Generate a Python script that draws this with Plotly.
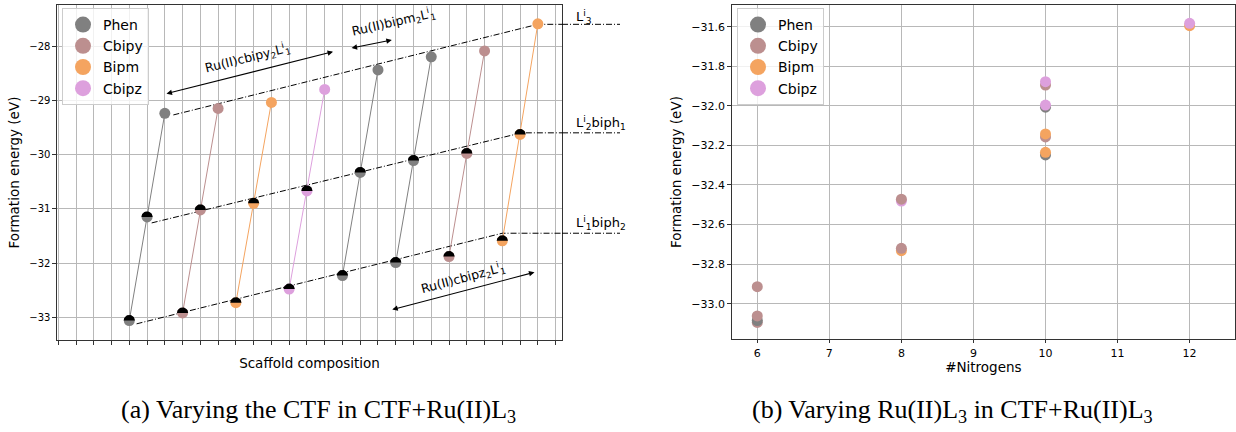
import numpy as np
import plotly.graph_objects as go

W, H = 1236, 432
FONT = "DejaVu Sans"

ligands = ["Phen", "Cbipy", "Bipm", "Cbipz"]
colors = {"Phen": "#808080", "Cbipy": "#bc8f8f", "Bipm": "#f4a460", "Cbipz": "#dda0dd"}

# ---------------- left panel data ----------------
group_ligand = ["Phen", "Cbipy", "Bipm", "Cbipz", "Phen", "Phen", "Cbipy", "Bipm"]
x_bottom = [3, 6, 9, 12, 15, 18, 21, 24]
x_mid = [4, 7, 10, 13, 16, 19, 22, 25]
x_top = [5, 8, 11, 14, 17, 20, 23, 26]
e_bottom = [-33.06, -32.92, -32.73, -32.48, -32.23, -31.99, -31.88, -31.59]
e_mid = [-31.15, -31.02, -30.90, -30.67, -30.33, -30.11, -29.98, -29.63]
e_top = [-29.24, -29.15, -29.04, -28.80, -28.44, -28.20, -28.09, -27.59]

guide_labels = ["L<sup>i</sup><sub>3</sub>",
                "L<sup>i</sup><sub>2</sub>biph<sub>1</sub>",
                "L<sup>i</sup><sub>1</sub>biph<sub>2</sub>"]
guide_x0 = [5.48, 4.26, 3.41]
guide_y0 = [-29.27, -31.26, -33.12]
guide_x1 = [26.0, 25.08, 24.0]
guide_y1 = [-27.60, -29.60, -31.45]
guide_label_y = [-27.46, -29.41, -31.27]

arrow_labels = ["Ru(II)cbipy<sub>2</sub>L<sup>i</sup><sub>1</sub>",
                "Ru(II)bipm<sub>2</sub>L<sup>i</sup><sub>1</sub>",
                "Ru(II)cbipz<sub>2</sub>L<sup>i</sup><sub>1</sub>"]
arrow_x0 = [5.01, 15.43, 17.72]
arrow_y0 = [-28.885, -28.042, -32.865]
arrow_x1 = [14.47, 17.78, 25.81]
arrow_y1 = [-28.105, -27.89, -32.17]
arrow_label_x = [9.63, 17.9, 21.79]
arrow_label_y = [-28.22, -27.56, -32.28]
arrow_label_angle = [-14, -13, -15]

# ---------------- right panel data ----------------
right_lig = ["Phen", "Phen", "Phen",
             "Cbipy", "Cbipy", "Cbipy", "Cbipy", "Cbipy", "Cbipy", "Cbipy",
             "Bipm", "Bipm", "Bipm", "Bipm",
             "Cbipz", "Cbipz", "Cbipz", "Cbipz"]
right_n = [6, 10, 10,
           6, 6, 6, 8, 8, 10, 10,
           8, 10, 10, 12,
           8, 10, 10, 12]
right_e = [-33.085, -32.007, -32.248,
           -33.062, -33.095, -32.914, -32.472, -32.720, -31.895, -32.157,
           -32.732, -32.142, -32.235, -31.595,
           -32.481, -31.878, -31.996, -31.583]
right_layer = [1, 0, 0,
               2, 0, 2, 2, 2, 0, 0,
               0, 2, 2, 0,
               0, 2, 2, 2]

# ---------------- geometry ----------------
L_dom = [57 / W, 562 / W]
L_ydom = [1 - 340 / H, 1 - 5 / H]
L_xr = [-1.07, 27.36]
L_yr = [-33.418, -27.244]
R_dom = [731.7 / W, 1235 / W]
R_ydom = [1 - 338.7 / H, 1 - 5.3 / H]
R_xr = [5.645, 12.63]
R_yr = [-33.177, -31.492]

sx = (L_dom[1] - L_dom[0]) * W / (L_xr[1] - L_xr[0])
sy = (L_ydom[1] - L_ydom[0]) * H / (L_yr[1] - L_yr[0])

fig = go.Figure()

DASHDOT = "6px,2px,1px,2px"

for k in range(3):
    fig.add_trace(go.Scatter(
        x=[guide_x0[k], guide_x1[k], L_xr[1]], y=[guide_y0[k], guide_y1[k], guide_y1[k]],
        mode="lines", line=dict(color="black", width=1, dash=DASHDOT),
        showlegend=False, hoverinfo="skip", xaxis="x", yaxis="y"))

for g, lig in enumerate(group_ligand):
    fig.add_trace(go.Scatter(
        x=[x_bottom[g], x_mid[g], x_top[g]], y=[e_bottom[g], e_mid[g], e_top[g]],
        mode="lines+markers", line=dict(color=colors[lig], width=1),
        marker=dict(color=colors[lig], size=11),
        showlegend=False, xaxis="x", yaxis="y"))

# black upper halves on the bottom/mid markers
r = 5.6
t = np.linspace(0, np.pi, 24)
hx, hy = [], []
for xs_, ys_ in ((x_bottom, e_bottom), (x_mid, e_mid)):
    for xc, yc in zip(xs_, ys_):
        hx += list(xc + r * np.cos(t) / sx) + [None]
        hy += list(yc + r * np.sin(t) / sy) + [None]
fig.add_trace(go.Scatter(x=hx, y=hy, mode="lines", fill="toself", fillcolor="black",
                         line=dict(width=0, color="black"), showlegend=False,
                         hoverinfo="skip", xaxis="x", yaxis="y"))

for lig in ligands:
    fig.add_trace(go.Scatter(x=[None], y=[None], mode="markers", name=lig,
                             marker=dict(color=colors[lig], size=16),
                             legend="legend", xaxis="x", yaxis="y"))

for layer in (0, 1, 2):
    for lig in ligands:
        idx = [i for i in range(len(right_lig)) if right_lig[i] == lig and right_layer[i] == layer]
        if not idx:
            continue
        fig.add_trace(go.Scatter(
            x=[right_n[i] for i in idx], y=[right_e[i] for i in idx], mode="markers",
            marker=dict(color=colors[lig], size=11), showlegend=False,
            xaxis="x2", yaxis="y2"))
for lig in ligands:
    fig.add_trace(go.Scatter(x=[None], y=[None], mode="markers", name=lig,
                             marker=dict(color=colors[lig], size=16),
                             legend="legend2", xaxis="x2", yaxis="y2"))

annotations = []
shapes = []
for k in range(3):
    shapes.append(dict(type="line", xref="paper", yref="y", x0=L_dom[1], x1=620 / W,
                       y0=guide_y1[k], y1=guide_y1[k],
                       line=dict(color="black", width=1, dash=DASHDOT)))
    annotations.append(dict(xref="paper", yref="y", x=574 / W, y=guide_label_y[k],
                            xanchor="left", yanchor="middle", showarrow=False,
                            text=guide_labels[k], font=dict(size=13, color="black")))
for k in range(3):
    annotations.append(dict(xref="x", yref="y", axref="x", ayref="y",
                            x=arrow_x1[k], y=arrow_y1[k], ax=arrow_x0[k], ay=arrow_y0[k],
                            text="", showarrow=True, arrowhead=2, arrowside="end+start",
                            arrowsize=1, arrowwidth=1.1, arrowcolor="black", standoff=0,
                            startstandoff=0))
    annotations.append(dict(xref="x", yref="y", x=arrow_label_x[k], y=arrow_label_y[k],
                            text=arrow_labels[k], showarrow=False, textangle=arrow_label_angle[k],
                            font=dict(size=12.5, color="black")))

caption_font = dict(family="Liberation Serif", size=26, color="black")
annotations.append(dict(xref="paper", yref="paper", x=318 / W, y=1 - 411 / H,
                        xanchor="center", yanchor="middle",
                        text="(a) Varying the CTF in CTF+Ru(II)L<sub>3</sub>", showarrow=False,
                        font=caption_font))
annotations.append(dict(xref="paper", yref="paper", x=952 / W, y=1 - 411 / H,
                        xanchor="center", yanchor="middle",
                        text="(b) Varying Ru(II)L<sub>3</sub> in CTF+Ru(II)L<sub>3</sub>", showarrow=False,
                        font=caption_font))

axis_common = dict(showline=True, mirror=True, linecolor="#333333", linewidth=1.2,
                   showgrid=True, gridcolor="#b8b8b8", gridwidth=1, zeroline=False,
                   ticks="outside", ticklen=3.5, tickcolor="#333333")

fig.update_layout(
    width=W, height=H, margin=dict(l=0, r=0, t=0, b=0),
    paper_bgcolor="white", plot_bgcolor="white",
    font=dict(family=FONT, color="black"),
    xaxis=dict(domain=L_dom, range=L_xr, tick0=0, dtick=1, showticklabels=False,
               title=dict(text="Scaffold composition", font=dict(size=13.5), standoff=14),
               anchor="y", **axis_common),
    yaxis=dict(domain=L_ydom, range=L_yr, tick0=0, dtick=1, tickfont=dict(size=10),
               title=dict(text="Formation energy (eV)", font=dict(size=13.5), standoff=6),
               anchor="x", **axis_common),
    xaxis2=dict(domain=R_dom, range=R_xr, tick0=0, dtick=1, tickfont=dict(size=11),
                title=dict(text="#Nitrogens", font=dict(size=13.5), standoff=4),
                anchor="y2", **axis_common),
    yaxis2=dict(domain=R_ydom, range=R_yr, tick0=0, dtick=0.2, tickformat=".1f",
                tickfont=dict(size=11),
                title=dict(text="Formation energy (eV)", font=dict(size=13.5), standoff=6),
                anchor="x2", **axis_common),
    legend=dict(x=62 / W, y=1 - 8 / H, xanchor="left", yanchor="top",
                bgcolor="rgba(255,255,255,0.8)", bordercolor="#cccccc", borderwidth=1,
                font=dict(size=14)),
    legend2=dict(x=737 / W, y=1 - 8 / H, xanchor="left", yanchor="top",
                 bgcolor="rgba(255,255,255,0.8)", bordercolor="#cccccc", borderwidth=1,
                 font=dict(size=14)),
    annotations=annotations, shapes=shapes,
    showlegend=True,
)

fig.write_html("out.html")
